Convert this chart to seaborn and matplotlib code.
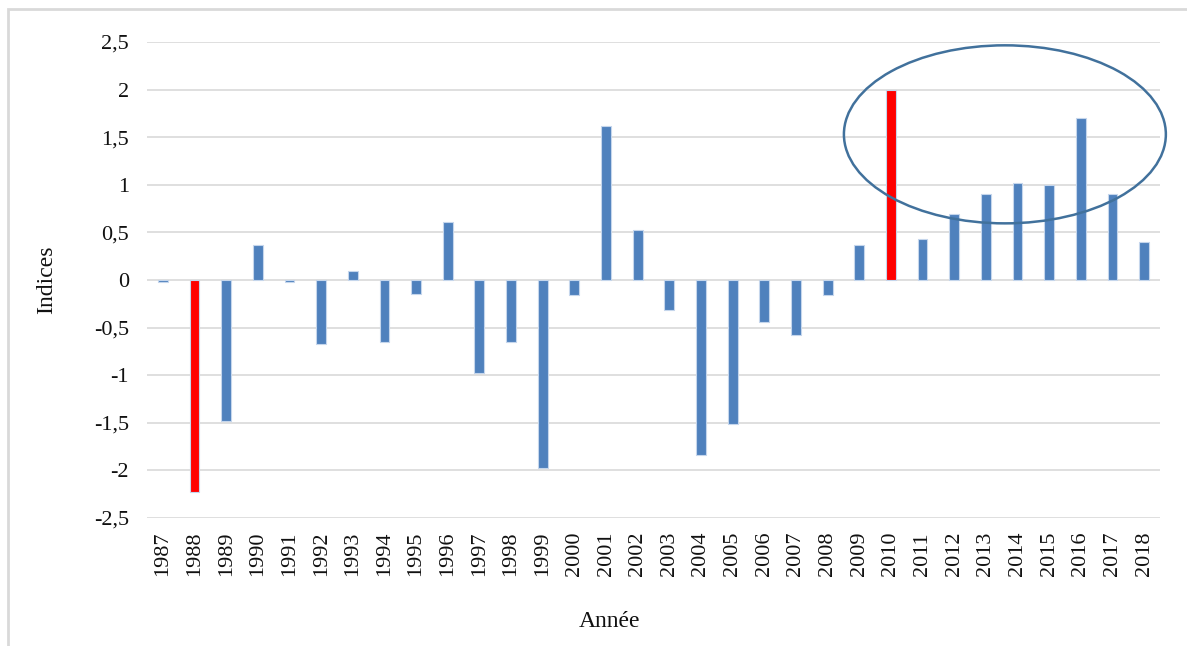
import matplotlib
matplotlib.use("Agg")
import matplotlib.pyplot as plt
from matplotlib.patches import Ellipse, Rectangle
import seaborn as sns
import pandas as pd

# Annual index values, 1987-2018
years = [str(y) for y in range(1987, 2019)]
values = [-0.02, -2.23, -1.48, 0.37, -0.02, -0.67, 0.09, -0.65, -0.15, 0.61,
          -0.98, -0.65, -1.97, -0.16, 1.62, 0.52, -0.32, -1.84, -1.51, -0.44,
          -0.58, -0.16, 0.37, 2.00, 0.43, 0.69, 0.90, 1.02, 1.00, 1.70,
          0.90, 0.40]
extreme_years = ["1988", "2010"]
y_ticks = [2.5, 2, 1.5, 1, 0.5, 0, -0.5, -1, -1.5, -2, -2.5]
y_tick_labels = ["2,5", "2", "1,5", "1", "0,5", "0", "-0,5", "-1", "-1,5", "-2", "-2,5"]

BLUE = "#4F81BD"
RED = "#FF0000"

df = pd.DataFrame({"Année": years, "Indices": values})
palette = {y: (RED if y in extreme_years else BLUE) for y in years}

sns.set_theme(style="white")
plt.rcParams["font.family"] = ["Liberation Serif", "DejaVu Serif"]

fig = plt.figure(figsize=(11.87, 6.46), dpi=100)
ax = fig.add_axes([147 / 1187, 1 - 518 / 646, 1013 / 1187, 476 / 646])

sns.barplot(data=df, x="Année", y="Indices", hue="Année", palette=palette,
            legend=False, width=0.31, saturation=1, edgecolor="#C5D6EC",
            linewidth=0.8, ax=ax, zorder=3)

ax.set_ylim(-2.5, 2.5)
ax.set_xlim(-0.5, len(years) - 0.5)
ax.set_yticks(y_ticks)
ax.set_yticklabels(y_tick_labels)
ax.grid(axis="y", color="#D9D9D9", linewidth=1.2, zorder=0)
ax.grid(axis="x", visible=False)
for s in ax.spines.values():
    s.set_visible(False)

ax.tick_params(axis="y", length=0, pad=13, labelsize=16, labelcolor="#111111")
ax.tick_params(axis="x", length=0, pad=10, labelsize=16, labelrotation=90,
               labelcolor="#111111")

ax.set_ylabel("Indices", fontsize=17, va="center", color="#111111")
ax.yaxis.set_label_coords(-0.0987, 0.5)
ax.set_xlabel("Année", fontsize=17, va="center", color="#111111")
ax.xaxis.set_label_coords(0.457, -0.218)

# Highlight of the recent positive period
ell = Ellipse((26.6, 1.53), width=10.17, height=1.87, fill=False,
              edgecolor="#41719C", linewidth=1.8, zorder=5, clip_on=False)
ax.add_patch(ell)

# Light frame around the chart
frame = Rectangle((8 / 1187, -0.05), 1.1, 1 - 9 / 646 + 0.05,
                  transform=fig.transFigure, fill=False,
                  edgecolor="#D9D9D9", linewidth=2)
fig.patches.append(frame)

fig.savefig("out.png", dpi=100)
